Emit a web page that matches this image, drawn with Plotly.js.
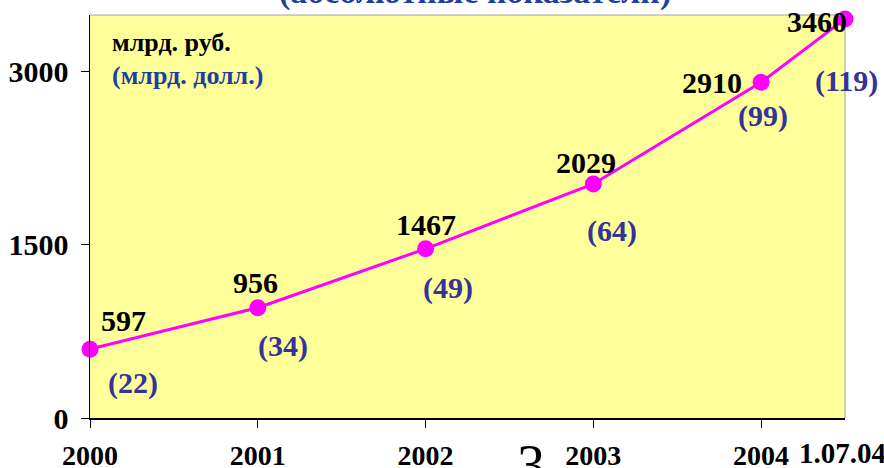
<!DOCTYPE html>
<html><head><meta charset="utf-8">
<script src="https://cdn.plot.ly/plotly-3.0.1.min.js"></script>
<style>html,body{margin:0;padding:0;background:#fff}#chart{width:884px;height:468px}</style>
</head><body><div id="chart"></div>
<script>
// Data
const years = [2000, 2001, 2002, 2003, 2004, 2004.5];
const rubles = [597, 956, 1467, 2029, 2910, 3460];        // млрд. руб.
const dollars = [22, 34, 49, 64, 99, 119];                 // млрд. долл.
const yearTicks = [2000, 2001, 2002, 2003, 2004];
const yearLabels = ['2000', '2001', '2002', '2003', '2004'];
const lastLabel = '1.07.04';

// Label offsets (styling, in px)
const rubShift = [[33,29],[-2,25],[0,24],[-7,21],[-49,0],[-28,-3]];
const usdShift = [[43,-34],[25,-38],[22,-39],[19,-47],[2,-34],[1,-62]];

const serif = 'Liberation Serif, Times New Roman, serif';
const ann = [];
years.forEach((x, i) => {
  ann.push({x: x, y: rubles[i], xref: 'x', yref: 'y', text: String(rubles[i]), showarrow: false,
    xshift: rubShift[i][0], yshift: rubShift[i][1],
    font: {family: serif, size: 30, color: '#000', weight: 'bold'}});
  ann.push({x: x, y: rubles[i], xref: 'x', yref: 'y', text: '(' + dollars[i] + ')', showarrow: false,
    xshift: usdShift[i][0], yshift: usdShift[i][1],
    font: {family: serif, size: 30, color: '#333399', weight: 'bold'}});
});
ann.push({x: 2004.5, y: 0, xref: 'x', yref: 'y', text: lastLabel, showarrow: false,
  xshift: -3, yshift: -35, font: {family: serif, size: 29, color: '#000', weight: 'bold'}});
ann.push({x: 0.026, y: 0.933, xref: 'paper', yref: 'paper', xanchor: 'left', yanchor: 'middle', text: 'млрд. руб.', showarrow: false,
  font: {family: serif, size: 26, color: '#000', weight: 'bold'}});
ann.push({x: 0.026, y: 0.851, xref: 'paper', yref: 'paper', xanchor: 'left', yanchor: 'middle', text: '(млрд. долл.)', showarrow: false,
  font: {family: serif, size: 26, color: '#1F3FA0', weight: 'bold'}});
ann.push({x: 0.51, y: 1.004, xref: 'paper', yref: 'paper', xanchor: 'center', yanchor: 'bottom', text: '(абсолютные показатели)', showarrow: false,
  font: {family: serif, size: 34, color: '#1F3FA0', weight: 'bold'}});
ann.push({x: 0.584, y: -0.035, xref: 'paper', yref: 'paper', xanchor: 'center', yanchor: 'top', text: '3', showarrow: false,
  font: {family: serif, size: 56, color: '#000'}});

const trace = {
  x: years, y: rubles, type: 'scatter', mode: 'lines+markers',
  line: {color: '#FF00FF', width: 3},
  marker: {color: '#FF00FF', size: 17},
  cliponaxis: false, hoverinfo: 'none'
};

const layout = {
  width: 884, height: 468,
  margin: {l: 90, r: 39, t: 15, b: 50},
  paper_bgcolor: '#FFFFFF', plot_bgcolor: '#FFFF99',
  showlegend: false,
  xaxis: {range: [2000, 2004.5], tickvals: yearTicks, ticktext: yearLabels,
    ticks: 'outside', ticklen: 8, tickcolor: '#000', tickwidth: 1,
    showgrid: false, zeroline: false, showline: true, linecolor: '#000', linewidth: 1.5,
    mirror: false, ticklabelstandoff: 4,
    tickfont: {family: serif, size: 28, color: '#000', weight: 'bold'}},
  yaxis: {range: [0, 3494], tickvals: [0, 1500, 3000],
    ticks: 'outside', ticklen: 8, tickcolor: '#000', tickwidth: 1,
    showgrid: false, zeroline: false, showline: true, linecolor: '#000', linewidth: 1.5,
    ticklabelstandoff: 6,
    tickfont: {family: serif, size: 30, color: '#000', weight: 'bold'}},
  shapes: [
    {type: 'line', xref: 'paper', yref: 'paper', x0: 0, x1: 1, y0: 1, y1: 1, line: {color: '#A0A0A0', width: 1}},
    {type: 'line', xref: 'paper', yref: 'paper', x0: 1, x1: 1, y0: 0, y1: 1, line: {color: '#A0A0A0', width: 1}}
  ],
  annotations: ann
};

Plotly.newPlot('chart', [trace], layout, {displayModeBar: false, staticPlot: true});
</script>
</body></html>
